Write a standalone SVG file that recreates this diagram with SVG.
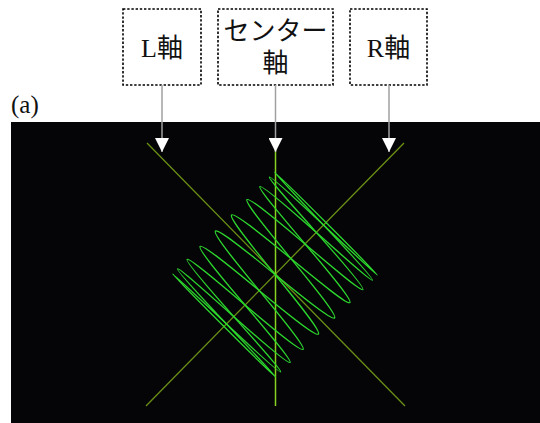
<svg xmlns="http://www.w3.org/2000/svg" width="540" height="423" viewBox="0 0 540 423">
<defs>
<style>
.box{fill:#fff;stroke:#000;stroke-width:1.6;stroke-dasharray:2.4 1.8}
.lbl{font-family:"Liberation Serif","Noto Sans CJK JP",serif;font-size:26px;fill:#111;text-anchor:middle}
.conn{stroke:#a0a0a0;stroke-width:1.5;fill:none}
.trace{fill:none;stroke:#2dd82d;stroke-width:1.3;stroke-linecap:round;stroke-linejoin:round}
.diag{stroke:#6b9015;stroke-width:1.3}
.vert{stroke:#86d21e;stroke-width:1.5}
</style>
<marker id="ah" markerUnits="userSpaceOnUse" markerWidth="14" markerHeight="14" refX="14" refY="7" orient="auto" viewBox="0 0 14 14"><path d="M0,0 L14,7 L0,14 Z" fill="#fff"/></marker>
<path id="q" class="trace" d="M0,0 C29.37,24.03 56.34,45.66 58.98,43.02 C61.62,40.38 39.92,13.48 15.76,-15.76 C-8.40,-45.00 -30.23,-71.77 -27.85,-74.15 C-25.47,-76.53 1.11,-54.52 29.98,-29.98 C58.85,-5.44 85.17,16.83 87.06,14.94 C88.95,13.05 66.39,-12.99 41.26,-41.26 C16.13,-69.53 -6.77,-95.23 -5.56,-96.44 C-4.35,-97.650 20.97,-74.38 48.50,-48.50 C76.03,-22.62 100.95,1.05 101.37,0.63 C101.79,0.21 77.70,-24.30 51,-51"/>
</defs>
<rect x="0" y="0" width="540" height="423" fill="#fff"/>
<text x="11" y="113" font-family="Liberation Serif, serif" font-size="25" fill="#111">(a)</text>
<g id="scope">
<rect x="11" y="122" width="529" height="301" fill="#050508"/>
<line class="diag" x1="147" y1="143" x2="405" y2="406"/>
<line class="diag" x1="404" y1="143" x2="146" y2="406"/>
<line class="vert" x1="275.5" y1="143" x2="275.5" y2="406"/>
<g id="trace" transform="translate(275,274.5) scale(1.01)">
<use href="#q"/>
<use href="#q" transform="scale(-1)"/>
<use href="#q" transform="matrix(0,-1,-1,0,0,0)"/>
<use href="#q" transform="matrix(0,1,1,0,0,0)"/>
</g>
</g>
<g id="node-L">
<rect class="box" x="123" y="9" width="78" height="76"/>
<text class="lbl" x="162" y="57">L軸</text>
</g>
<g id="node-center">
<rect class="box" x="218" y="9" width="115" height="76"/>
<text class="lbl" x="275.5" y="40">センター</text>
<text class="lbl" x="275.5" y="72">軸</text>
</g>
<g id="node-R">
<rect class="box" x="350" y="9" width="77" height="76"/>
<text class="lbl" x="388.5" y="57">R軸</text>
</g>
<g id="connectors">
<line class="conn" x1="162" y1="85" x2="162" y2="152" marker-end="url(#ah)"/>
<line class="conn" x1="275.5" y1="85" x2="275.5" y2="152" marker-end="url(#ah)"/>
<line class="conn" x1="389" y1="85" x2="389" y2="152" marker-end="url(#ah)"/>
</g>
</svg>
